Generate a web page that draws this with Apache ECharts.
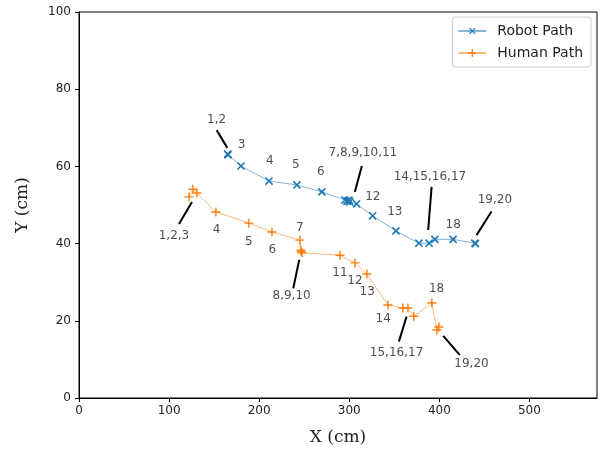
<!DOCTYPE html>
<html><head><meta charset="utf-8">
<script src="https://cdn.jsdelivr.net/npm/echarts@6/dist/echarts.min.js"></script>
<style>html,body{margin:0;padding:0;background:#fff}#c{width:603px;height:449px}</style>
</head><body><div id="c"></div><script>
// Robot path (cm)
const robotX = [165, 165.5, 179.8, 210.9, 241.9, 269.6, 295.2, 297.4, 298.5, 299.6, 300.7, 308.1, 325.9, 351.8, 377.3, 388.7, 395.0, 415.3, 439.4, 440.0];
const robotY = [63.2, 63.0, 60.1, 56.2, 55.2, 53.4, 51.3, 51.0, 51.0, 51.3, 50.8, 50.3, 47.2, 43.3, 40.1, 40.1, 41.1, 41.1, 40.1, 40.0];
// Human path (cm)
const humanX = [122.1, 126.5, 130.9, 152.0, 188.6, 214.2, 245.2, 246.3, 247.4, 246.9, 289.6, 306.3, 319.6, 342.9, 359.5, 365.1, 371.7, 391.7, 397.3, 399.5];
const humanY = [52.1, 54.1, 53.1, 48.2, 45.3, 43.0, 40.9, 38.3, 37.6, 37.8, 37.0, 35.0, 32.1, 24.1, 23.3, 23.3, 21.2, 24.6, 17.6, 18.4];
// Annotation text and anchor positions (data coords)
const robotNoteText = ['1,2', '3', '4', '5', '6', '7,8,9,10,11', '12', '13', '14,15,16,17', '18', '19,20'];
const robotNoteX = [152.8, 180.5, 211.9, 240.8, 268.5, 315.1, 326.2, 350.6, 389.5, 415.3, 461.6];
const robotNoteY = [72.0, 65.5, 61.4, 60.5, 58.5, 63.5, 52.2, 48.3, 57.3, 44.8, 51.3];
const robotLeaders = [[152.8, 69.4, 164.6, 64.8], [314.0, 60.1, 306.2, 53.4], [391.4, 54.7, 387.6, 43.5], [457.9, 48.3, 441.3, 42.2]];
const humanNoteText = ['1,2,3', '4', '5', '6', '7', '8,9,10', '11', '12', '13', '14', '15,16,17', '18', '19,20'];
const humanNoteX = [105.4, 152.8, 188.6, 214.5, 245.2, 236.0, 289.6, 306.3, 319.9, 337.7, 352.5, 396.9, 435.7];
const humanNoteY = [42.0, 43.5, 40.5, 38.3, 44.2, 26.4, 32.3, 30.4, 27.4, 20.4, 11.6, 28.2, 8.8];
const humanLeaders = [[111.0, 45.1, 125.4, 50.8], [237.8, 28.4, 244.5, 35.8], [355.1, 14.6, 363.6, 21.1], [422.8, 11.1, 404.3, 16.1]];
const xTicks = [0, 100, 200, 300, 400, 500];
const yTicks = [0, 20, 40, 60, 80, 100];

const BLUE = '#1f77b4', ORANGE = '#ff7f0e';
const PLUS = 'path://M4.2,0H5.8V10H4.2Z M0,4.2H10V5.8H0Z';
const zip = (a, b) => a.map((v, i) => [v, b[i]]);
const notes = (t, x, y) => t.map((s, i) => ({ value: [x[i], y[i]], name: s }));
const leaders = (arr) => arr.map(l => ({ coords: [[l[0], l[1]], [l[2], l[3]]] }));

const chart = echarts.init(document.getElementById('c'), null, { renderer: 'canvas' });
const noteLabel = {
  show: true, position: 'inside', formatter: p => p.name,
  color: '#222', fontSize: 12, fontFamily: 'DejaVu Sans', align: 'center', verticalAlign: 'middle'
};
chart.setOption({
  animation: false,
  backgroundColor: '#fff',
  grid: { left: 79, top: 12, right: 6, bottom: 51, show: true, borderColor: '#000', borderWidth: 1, outerBoundsMode: 'none', containLabel: false },
  xAxis: {
    type: 'value', min: 0, max: 575,
    name: 'X (cm)', nameLocation: 'middle', nameGap: 31,
    nameTextStyle: { fontFamily: 'DejaVu Serif', fontSize: 17, color: '#222' },
    axisLine: { show: true, lineStyle: { color: '#000' } },
    axisTick: { show: true, length: 4, customValues: xTicks, lineStyle: { color: '#000' } },
    axisLabel: { customValues: xTicks, fontFamily: 'DejaVu Sans', fontSize: 12, color: '#222', margin: 7 },
    splitLine: { show: false }
  },
  yAxis: {
    type: 'value', min: 0, max: 100, interval: 20,
    name: 'Y (cm)', nameLocation: 'middle', nameGap: 48,
    nameTextStyle: { fontFamily: 'DejaVu Serif', fontSize: 17, color: '#222' },
    axisLine: { show: true, lineStyle: { color: '#000' } },
    axisTick: { show: true, length: 4, customValues: yTicks, lineStyle: { color: '#000' } },
    axisLabel: { customValues: yTicks, fontFamily: 'DejaVu Sans', fontSize: 12, color: '#222', margin: 8 },
    splitLine: { show: false }
  },
  legend: {
    orient: 'vertical', right: 12, top: 17,
    itemWidth: 28, itemHeight: 10, itemGap: 8,
    padding: [7, 8, 7, 5],
    borderColor: '#ccc', borderWidth: 1, borderRadius: 3,
    textStyle: { fontFamily: 'DejaVu Sans', fontSize: 14, color: '#222', padding: [0, 0, 0, 6] },
    data: ['Robot Path', 'Human Path']
  },
  series: [
    {
      name: 'Robot Path', type: 'line', data: zip(robotX, robotY),
      symbol: PLUS, symbolRotate: 45, symbolSize: 10,
      itemStyle: { color: BLUE },
      lineStyle: { color: BLUE, width: 1, opacity: 0.55 }
    },
    {
      name: 'Human Path', type: 'line', data: zip(humanX, humanY),
      symbol: PLUS, symbolSize: 9,
      itemStyle: { color: ORANGE },
      lineStyle: { color: ORANGE, width: 1, opacity: 0.55 }
    },
    {
      type: 'lines', coordinateSystem: 'cartesian2d', silent: true,
      data: leaders(robotLeaders.concat(humanLeaders)),
      lineStyle: { color: '#000', width: 2, opacity: 1 }
    },
    {
      type: 'scatter', symbolSize: 0, silent: true,
      data: notes(robotNoteText, robotNoteX, robotNoteY).concat(notes(humanNoteText, humanNoteX, humanNoteY)),
      label: noteLabel
    }
  ]
});
</script></body></html>
